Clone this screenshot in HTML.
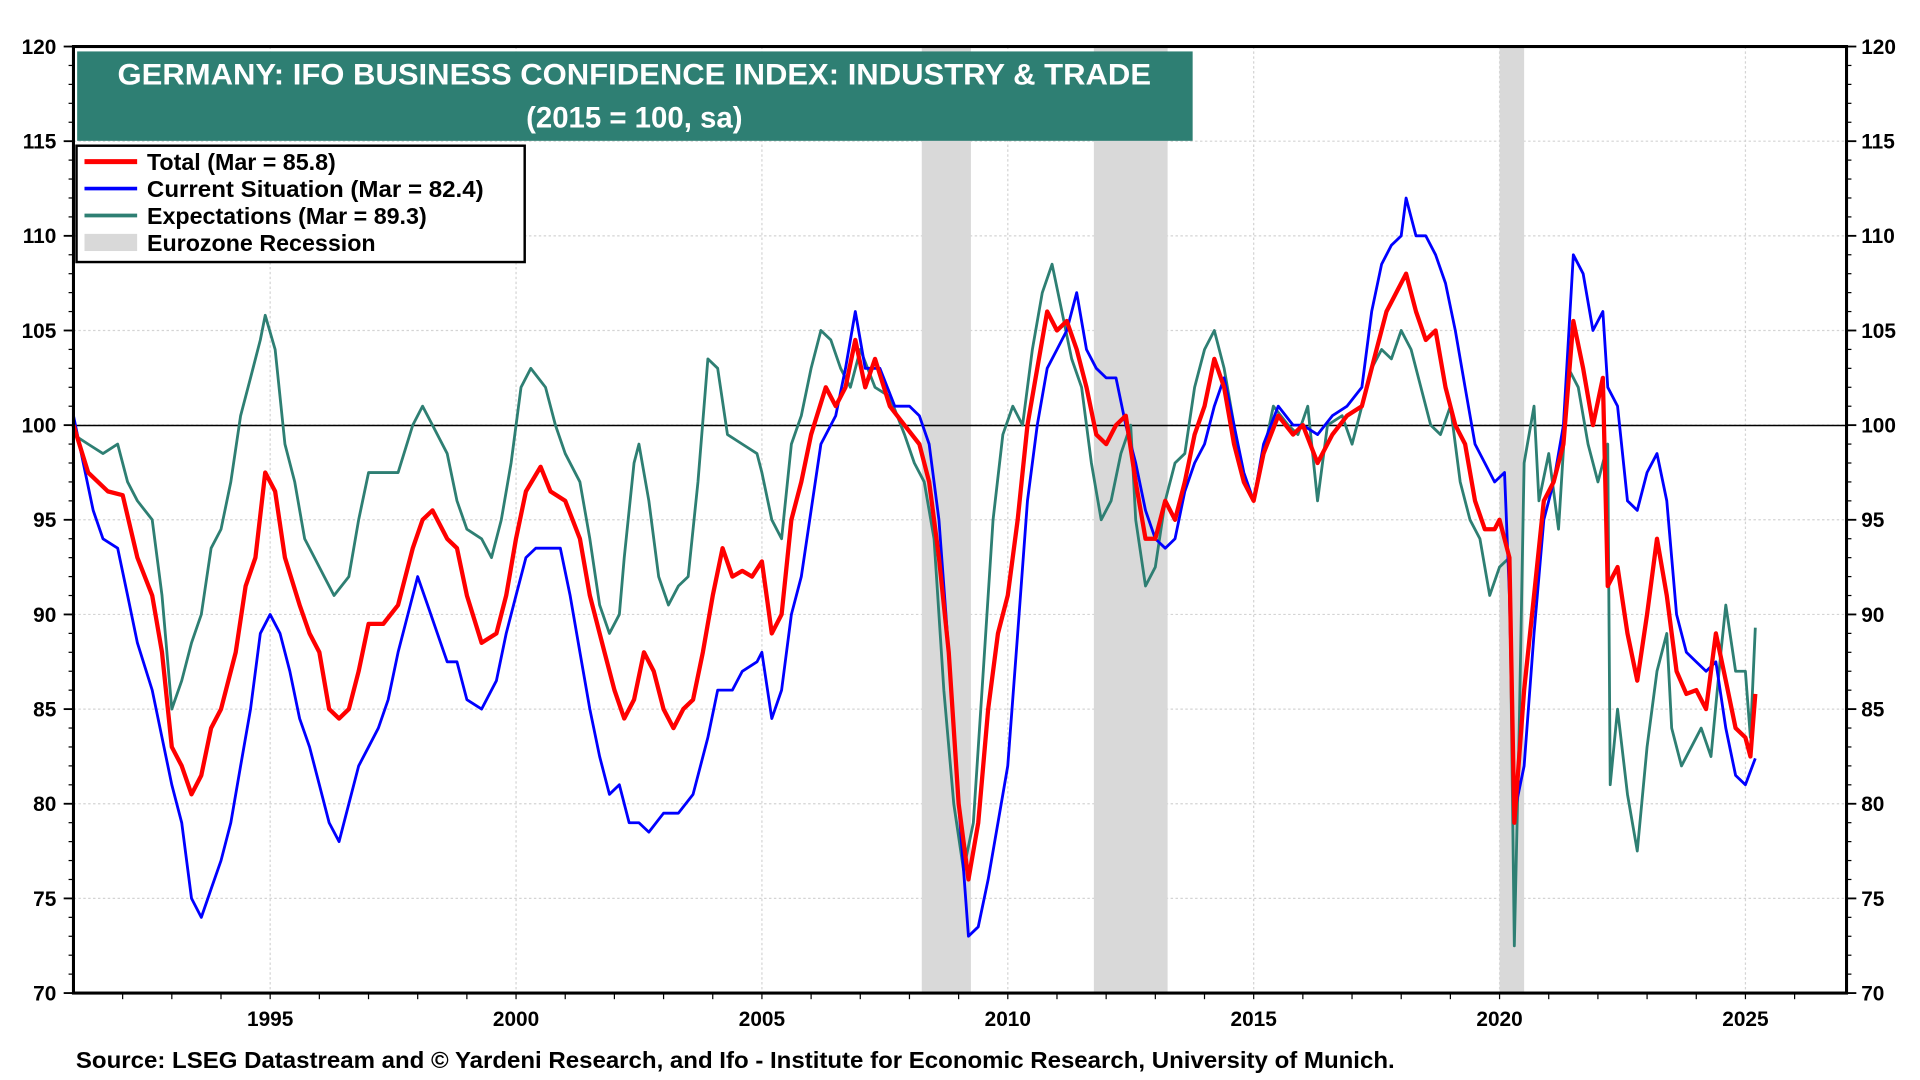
<!DOCTYPE html>
<html><head><meta charset="utf-8"><style>
html,body{margin:0;padding:0;background:#fff;width:1920px;height:1080px;overflow:hidden}
svg{display:block;font-family:"Liberation Sans",Arial,sans-serif}
</style></head><body>
<svg id="chart" width="1920" height="1080" viewBox="0 0 1568 882" xmlns="http://www.w3.org/2000/svg">
<g id="grid"></g>
<g id="rec"></g>
<line x1="60" x2="1508" y1="347.5" y2="347.5" stroke="#000" stroke-width="1.2"/>
<g id="series"></g>
<rect x="60" y="38" width="1448" height="773" fill="none" stroke="#000" stroke-width="2.5"/>
<g id="axes" font-size="17" font-weight="bold"></g>
<rect x="63" y="42" width="911" height="73" fill="#2e7f73"/>
<text x="518" y="69" fill="#fff" font-size="24.5" font-weight="bold" text-anchor="middle" textLength="844" lengthAdjust="spacingAndGlyphs">GERMANY: IFO BUSINESS  CONFIDENCE INDEX: INDUSTRY &amp; TRADE</text>
<text x="518" y="104" fill="#fff" font-size="24" font-weight="bold" text-anchor="middle">(2015 = 100, sa)</text>
<g>
<rect x="62.5" y="119" width="366" height="95" fill="#fff" stroke="#000" stroke-width="2"/>
<line x1="69" x2="112" y1="132" y2="132" stroke="#ff0000" stroke-width="4"/>
<text x="120" y="139" font-size="19" font-weight="bold">Total (Mar = 85.8)</text>
<line x1="69" x2="112" y1="154" y2="154" stroke="#0000ff" stroke-width="3"/>
<text x="120" y="161" font-size="19" font-weight="bold" textLength="275" lengthAdjust="spacingAndGlyphs">Current Situation (Mar = 82.4)</text>
<line x1="69" x2="112" y1="176" y2="176" stroke="#2e7f73" stroke-width="3"/>
<text x="120" y="183" font-size="19" font-weight="bold">Expectations (Mar = 89.3)</text>
<rect x="69" y="191" width="43" height="14" fill="#d9d9d9"/>
<text x="120" y="205" font-size="19" font-weight="bold">Eurozone Recession</text>
</g>
<text x="62" y="872" font-size="19" font-weight="bold" textLength="1077" lengthAdjust="spacingAndGlyphs">Source: LSEG Datastream and © Yardeni Research, and Ifo - Institute for Economic Research, University of Munich.</text>
</svg>
<script>
const yTicks=[70,75,80,85,90,95,100,105,110,115,120];
const xTickYears=[1995,2000,2005,2010,2015,2020,2025];
const recessions=[[2008.25,2009.25],[2011.75,2013.25],[2020.0,2020.5]];
const totalData=[[1991.0,100],[1991.3,97.5],[1991.7,96.5],[1992.0,96.3],[1992.3,93],[1992.6,91],[1992.8,88],[1993.0,83],[1993.2,82],[1993.4,80.5],[1993.6,81.5],[1993.8,84],[1994.0,85],[1994.3,88],[1994.5,91.5],[1994.7,93],[1994.9,97.5],[1995.1,96.5],[1995.3,93],[1995.6,90.5],[1995.8,89],[1996.0,88],[1996.2,85],[1996.4,84.5],[1996.6,85],[1996.8,87],[1997.0,89.5],[1997.3,89.5],[1997.6,90.5],[1997.9,93.5],[1998.1,95],[1998.3,95.5],[1998.6,94],[1998.8,93.5],[1999.0,91],[1999.3,88.5],[1999.6,89],[1999.8,91],[2000.0,94],[2000.2,96.5],[2000.5,97.8],[2000.7,96.5],[2001.0,96],[2001.3,94],[2001.5,91],[2001.8,88],[2002.0,86],[2002.2,84.5],[2002.4,85.5],[2002.6,88],[2002.8,87],[2003.0,85],[2003.2,84],[2003.4,85],[2003.6,85.5],[2003.8,88],[2004.0,91],[2004.2,93.5],[2004.4,92],[2004.6,92.3],[2004.8,92],[2005.0,92.8],[2005.2,89],[2005.4,90],[2005.6,95],[2005.8,97],[2006.0,99.5],[2006.3,102],[2006.5,101],[2006.7,102],[2006.9,104.5],[2007.1,102],[2007.3,103.5],[2007.6,101],[2007.9,100],[2008.2,99],[2008.4,97],[2008.6,93],[2008.8,88],[2009.0,80],[2009.2,76],[2009.4,79],[2009.6,85],[2009.8,89],[2010.0,91],[2010.2,95],[2010.4,100],[2010.6,103],[2010.8,106],[2011.0,105],[2011.2,105.5],[2011.4,104],[2011.6,102],[2011.8,99.5],[2012.0,99],[2012.2,100],[2012.4,100.5],[2012.6,97],[2012.8,94],[2013.0,94],[2013.2,96],[2013.4,95],[2013.6,97],[2013.8,99.5],[2014.0,101],[2014.2,103.5],[2014.4,102],[2014.6,99],[2014.8,97],[2015.0,96],[2015.2,98.5],[2015.5,100.5],[2015.8,99.5],[2016.0,100],[2016.3,98],[2016.6,99.5],[2016.9,100.5],[2017.2,101],[2017.5,104],[2017.7,106],[2017.9,107],[2018.1,108],[2018.3,106],[2018.5,104.5],[2018.7,105],[2018.9,102],[2019.1,100],[2019.3,99],[2019.5,96],[2019.7,94.5],[2019.9,94.5],[2020.0,95],[2020.2,93],[2020.3,79],[2020.5,86],[2020.7,91],[2020.9,96],[2021.1,97],[2021.3,99],[2021.5,105.5],[2021.7,103],[2021.9,100],[2022.1,102.5],[2022.2,91.5],[2022.4,92.5],[2022.6,89],[2022.8,86.5],[2023.0,90],[2023.2,94],[2023.4,91],[2023.6,87],[2023.8,85.8],[2024.0,86],[2024.2,85],[2024.4,89],[2024.6,86.5],[2024.8,84],[2025.0,83.5],[2025.1,82.5],[2025.2,85.8]];
const currentData=[[1991.0,100.5],[1991.2,98],[1991.4,95.5],[1991.6,94],[1991.9,93.5],[1992.1,91],[1992.3,88.5],[1992.6,86],[1992.8,83.5],[1993.0,81],[1993.2,79],[1993.4,75],[1993.6,74],[1993.8,75.5],[1994.0,77],[1994.2,79],[1994.4,82],[1994.6,85],[1994.8,89],[1995.0,90],[1995.2,89],[1995.4,87],[1995.6,84.5],[1995.8,83],[1996.0,81],[1996.2,79],[1996.4,78],[1996.6,80],[1996.8,82],[1997.0,83],[1997.2,84],[1997.4,85.5],[1997.6,88],[1997.8,90],[1998.0,92],[1998.2,90.5],[1998.4,89],[1998.6,87.5],[1998.8,87.5],[1999.0,85.5],[1999.3,85],[1999.6,86.5],[1999.8,89],[2000.0,91],[2000.2,93],[2000.4,93.5],[2000.7,93.5],[2000.9,93.5],[2001.1,91],[2001.3,88],[2001.5,85],[2001.7,82.5],[2001.9,80.5],[2002.1,81],[2002.3,79],[2002.5,79],[2002.7,78.5],[2003.0,79.5],[2003.3,79.5],[2003.6,80.5],[2003.9,83.5],[2004.1,86],[2004.4,86],[2004.6,87],[2004.9,87.5],[2005.0,88],[2005.2,84.5],[2005.4,86],[2005.6,90],[2005.8,92],[2006.0,95.5],[2006.2,99],[2006.5,100.5],[2006.7,103],[2006.9,106],[2007.1,103],[2007.4,103],[2007.7,101],[2008.0,101],[2008.2,100.5],[2008.4,99],[2008.6,95],[2008.8,88],[2009.0,80],[2009.2,73],[2009.4,73.5],[2009.6,76],[2009.8,79],[2010.0,82],[2010.2,89],[2010.4,96],[2010.6,100],[2010.8,103],[2011.0,104],[2011.2,105],[2011.4,107],[2011.6,104],[2011.8,103],[2012.0,102.5],[2012.2,102.5],[2012.4,100],[2012.6,98],[2012.8,95.5],[2013.0,94],[2013.2,93.5],[2013.4,94],[2013.6,96.5],[2013.8,98],[2014.0,99],[2014.2,101],[2014.4,102.5],[2014.6,100],[2014.8,97.5],[2015.0,96],[2015.2,99],[2015.5,101],[2015.8,100],[2016.0,100],[2016.3,99.5],[2016.6,100.5],[2016.9,101],[2017.2,102],[2017.4,106],[2017.6,108.5],[2017.8,109.5],[2018.0,110],[2018.1,112],[2018.3,110],[2018.5,110],[2018.7,109],[2018.9,107.5],[2019.1,105],[2019.3,102],[2019.5,99],[2019.7,98],[2019.9,97],[2020.1,97.5],[2020.2,91],[2020.3,79.5],[2020.5,82],[2020.7,89],[2020.9,95],[2021.1,97],[2021.3,100],[2021.5,109],[2021.7,108],[2021.9,105],[2022.1,106],[2022.2,102],[2022.4,101],[2022.6,96],[2022.8,95.5],[2023.0,97.5],[2023.2,98.5],[2023.4,96],[2023.6,90],[2023.8,88],[2024.0,87.5],[2024.2,87],[2024.4,87.5],[2024.6,84],[2024.8,81.5],[2025.0,81],[2025.2,82.4]];
const expectData=[[1991.0,99.5],[1991.3,99],[1991.6,98.5],[1991.9,99],[1992.1,97],[1992.3,96],[1992.6,95],[1992.8,91],[1993.0,85],[1993.2,86.5],[1993.4,88.5],[1993.6,90],[1993.8,93.5],[1994.0,94.5],[1994.2,97],[1994.4,100.5],[1994.6,102.5],[1994.8,104.5],[1994.9,105.8],[1995.1,104],[1995.3,99],[1995.5,97],[1995.7,94],[1995.9,93],[1996.1,92],[1996.3,91],[1996.6,92],[1996.8,95],[1997.0,97.5],[1997.3,97.5],[1997.6,97.5],[1997.9,100],[1998.1,101],[1998.3,100],[1998.6,98.5],[1998.8,96],[1999.0,94.5],[1999.3,94],[1999.5,93],[1999.7,95],[1999.9,98],[2000.1,102],[2000.3,103],[2000.6,102],[2000.8,100],[2001.0,98.5],[2001.3,97],[2001.5,94],[2001.7,90.5],[2001.9,89],[2002.1,90],[2002.2,93],[2002.4,98],[2002.5,99],[2002.7,96],[2002.9,92],[2003.1,90.5],[2003.3,91.5],[2003.5,92],[2003.7,97],[2003.9,103.5],[2004.1,103],[2004.3,99.5],[2004.6,99],[2004.9,98.5],[2005.0,97.5],[2005.2,95],[2005.4,94],[2005.6,99],[2005.8,100.5],[2006.0,103],[2006.2,105],[2006.4,104.5],[2006.6,103],[2006.8,102],[2007.0,104],[2007.3,102],[2007.6,101.5],[2007.9,99.5],[2008.1,98],[2008.3,97],[2008.5,94],[2008.7,86],[2008.9,80],[2009.1,76.5],[2009.3,79],[2009.5,87],[2009.7,95],[2009.9,99.5],[2010.1,101],[2010.3,100],[2010.5,104],[2010.7,107],[2010.9,108.5],[2011.1,106],[2011.3,103.5],[2011.5,102],[2011.7,98],[2011.9,95],[2012.1,96],[2012.3,98.5],[2012.5,100],[2012.6,95],[2012.8,91.5],[2013.0,92.5],[2013.2,96],[2013.4,98],[2013.6,98.5],[2013.8,102],[2014.0,104],[2014.2,105],[2014.4,103],[2014.6,100],[2014.8,97],[2015.0,96],[2015.2,98.5],[2015.4,101],[2015.7,100],[2015.9,99.5],[2016.1,101],[2016.3,96],[2016.5,100],[2016.8,100.5],[2017.0,99],[2017.2,101],[2017.4,103],[2017.6,104],[2017.8,103.5],[2018.0,105],[2018.2,104],[2018.4,102],[2018.6,100],[2018.8,99.5],[2019.0,101],[2019.2,97],[2019.4,95],[2019.6,94],[2019.8,91],[2020.0,92.5],[2020.2,93],[2020.3,72.5],[2020.4,84],[2020.5,98],[2020.7,101],[2020.8,96],[2021.0,98.5],[2021.2,94.5],[2021.4,103],[2021.6,102],[2021.8,99],[2022.0,97],[2022.2,99],[2022.25,81],[2022.4,85],[2022.6,80.5],[2022.8,77.5],[2023.0,83],[2023.2,87],[2023.4,89],[2023.5,84],[2023.7,82],[2023.9,83],[2024.1,84],[2024.3,82.5],[2024.5,88],[2024.6,90.5],[2024.8,87],[2025.0,87],[2025.1,83.5],[2025.2,89.3]];

const NS='http://www.w3.org/2000/svg';
const L=60,R=1508,T=38,B=811;
const xs=yr=>L+(yr-1991)*40.16;
const ys=v=>B-(v-70)*(B-T)/50;
function mk(tag,attrs,parent){const e=document.createElementNS(NS,tag);for(const k in attrs)e.setAttribute(k,attrs[k]);parent.appendChild(e);return e;}
const grid=document.getElementById('grid'),rec=document.getElementById('rec'),ser=document.getElementById('series'),axes=document.getElementById('axes');
yTicks.forEach(v=>{
  const gl=mk('line',{x1:L,x2:R,y1:ys(v),y2:ys(v),stroke:'#d4d4d4','stroke-width':1,'stroke-dasharray':'2,2'},grid);
  
  
  const t1=mk('text',{x:46,y:ys(v)+6,'text-anchor':'end'},axes);t1.textContent=v;
  
  
  const t2=mk('text',{x:1520,y:ys(v)+6},axes);t2.textContent=v;
  
  
  mk('line',{x1:L-8,x2:L,y1:ys(v),y2:ys(v),stroke:'#000','stroke-width':1.5},axes);
  mk('line',{x1:R,x2:R+8,y1:ys(v),y2:ys(v),stroke:'#000','stroke-width':1.5},axes);
});
for(let v=70;v<=120;v++){mk('line',{x1:L-4,x2:L,y1:ys(v),y2:ys(v),stroke:'#000','stroke-width':1},axes);mk('line',{x1:R,x2:R+4,y1:ys(v),y2:ys(v),stroke:'#000','stroke-width':1},axes);}
for(let y=1992;y<=2026;y++){mk('line',{x1:xs(y),x2:xs(y),y1:B,y2:B+5,stroke:'#000','stroke-width':1},axes);}
xTickYears.forEach(yr=>{
  const gl=mk('line',{x1:xs(yr),x2:xs(yr),y1:T,y2:B,stroke:'#d4d4d4','stroke-width':1,'stroke-dasharray':'2,2'},grid);
  
  
  const t=mk('text',{x:xs(yr),y:B+27,'text-anchor':'middle'},axes);t.textContent=yr;
  
  
});
recessions.forEach(r=>{
  const b=mk('rect',{x:xs(r[0]),y:T,width:xs(r[1])-xs(r[0]),height:B-T,fill:'#d9d9d9'},rec);
  
  
});
function line(data,color,w,name){
  const p=mk('polyline',{points:data.map(d=>xs(d[0]).toFixed(1)+','+ys(d[1]).toFixed(1)).join(' '),fill:'none',stroke:color,'stroke-width':w,'stroke-linejoin':'round'},ser);
  
  
}
line(expectData,'#2e7f73',2.3,'expectations-line');
line(currentData,'#0000ff',2.3,'current-situation-line');
line(totalData,'#ff0000',3.5,'total-line');
</script>
</body></html>
